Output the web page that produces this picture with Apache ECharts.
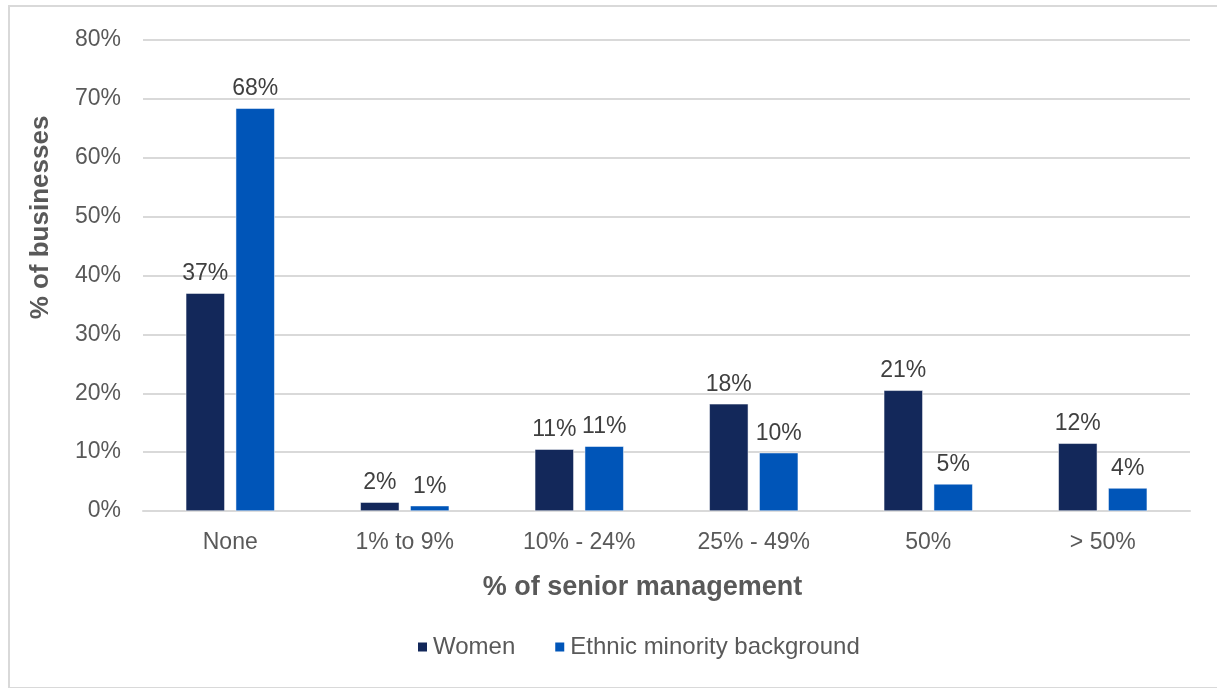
<!DOCTYPE html>
<html>
<head>
<meta charset="utf-8">
<script src="https://cdn.jsdelivr.net/npm/echarts@6/dist/echarts.min.js"></script>
<style>
  html, body { margin: 0; padding: 0; background: #fff; overflow: hidden; }
  #frame { position: absolute; left: 8px; top: 5px; width: 1240px; height: 684px; border: 2px solid #d9d9d9; box-sizing: border-box; }
  #chart { position: absolute; left: 0; top: 0; width: 1217px; height: 688px; }
</style>
</head>
<body>
<div id="frame"></div>
<div id="chart"></div>
<script>
// Share of businesses by proportion of senior management
const categories = ['None', '1% to 9%', '10% - 24%', '25% - 49%', '50%', '> 50%'];
const women = [37.0, 1.5, 10.5, 18.2, 20.5, 11.5];
const ethnicMinority = [68.4, 0.9, 11.0, 9.9, 4.6, 3.9];
const yTicks = [0, 10, 20, 30, 40, 50, 60, 70, 80];

const FONT = '"Liberation Sans", Arial, sans-serif';
const chart = echarts.init(document.getElementById('chart'));

const valueLabel = {
  show: true,
  position: 'top',
  distance: 8,
  fontFamily: FONT,
  fontSize: 23,
  color: '#404040',
  formatter: p => Math.round(p.value) + '%'
};

chart.setOption({
  animation: false,
  textStyle: { fontFamily: FONT },
  grid: { left: 143, right: 27, top: 40, bottom: 177 },
  legend: {
    top: 630,
    left: 411,
    itemWidth: 11,
    itemHeight: 11,
    itemGap: 38,
    icon: 'rect',
    textStyle: { fontFamily: FONT, fontSize: 24, color: '#595959' },
    data: ['Women', 'Ethnic minority background']
  },
  xAxis: {
    type: 'category',
    data: categories,
    name: '% of senior management',
    nameLocation: 'middle',
    nameGap: 63,
    nameTextStyle: { fontFamily: FONT, fontSize: 27, fontWeight: 'bold', color: '#595959', padding: [0, 48, 0, 0] },
    axisLine: { lineStyle: { color: '#d9d9d9', width: 2 } },
    axisTick: { show: false },
    axisLabel: { fontFamily: FONT, fontSize: 23, color: '#595959', margin: 20 }
  },
  yAxis: {
    type: 'value',
    min: yTicks[0],
    max: yTicks[yTicks.length - 1],
    interval: 10,
    name: '% of businesses',
    nameLocation: 'middle',
    nameGap: 89,
    nameTextStyle: { fontFamily: FONT, fontSize: 26, fontWeight: 'bold', color: '#595959', padding: [0, 0, 0, 116] },
    axisLine: { show: false },
    axisTick: { show: false },
    splitLine: { lineStyle: { color: '#d9d9d9', width: 2 } },
    axisLabel: { fontFamily: FONT, fontSize: 23, color: '#595959', margin: 22, formatter: v => v + '%' }
  },
  series: [
    {
      name: 'Women',
      type: 'bar',
      data: women,
      barWidth: 39,
      barGap: '28%',
      itemStyle: { color: '#13285a', borderColor: '#ffffff', borderWidth: 0.5 },
      label: valueLabel
    },
    {
      name: 'Ethnic minority background',
      type: 'bar',
      data: ethnicMinority,
      barWidth: 39,
      itemStyle: { color: '#0055b8', borderColor: '#ffffff', borderWidth: 0.5 },
      label: valueLabel
    }
  ]
});
</script>
</body>
</html>
